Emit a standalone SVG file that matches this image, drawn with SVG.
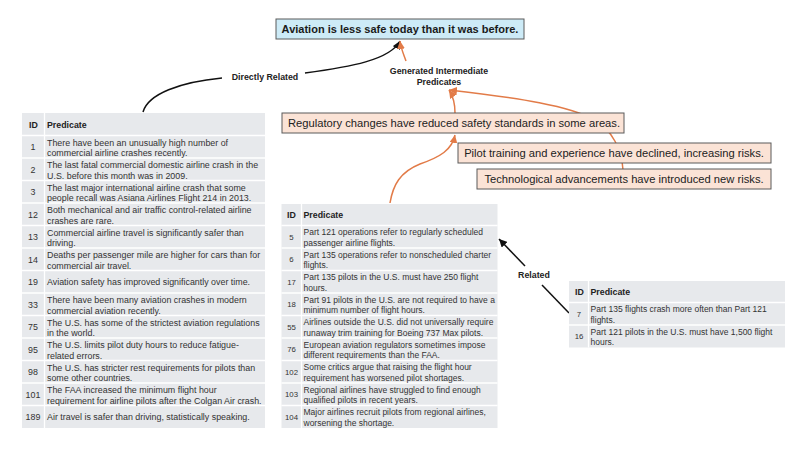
<svg xmlns="http://www.w3.org/2000/svg" width="800" height="450" viewBox="0 0 800 450">
<style>
.bg{fill:#ffffff}
.title{fill:#CDEBF7;stroke:#5a5a5a;stroke-width:1}
.gen{fill:#FBE3D6;stroke:#5a5a5a;stroke-width:1}
.tt{font-family:"Liberation Sans",Arial,sans-serif;font-weight:bold;font-size:11px;fill:#1a1a1a;text-anchor:middle}
.gt{font-family:"Liberation Sans",Arial,sans-serif;font-size:11.2px;fill:#222;text-anchor:middle}
.lbl{font-family:"Liberation Sans",Arial,sans-serif;font-weight:bold;font-size:8.8px;fill:#222;text-anchor:middle}
.tbl{fill:#E7E9EC}
.sep{stroke:#ffffff;stroke-width:1.3}
.hd{font-family:"Liberation Sans",Arial,sans-serif;font-weight:bold;font-size:8.8px;fill:#222}
.l{font-family:"Liberation Sans",Arial,sans-serif;font-size:8.9px;fill:#333}
.lid{font-family:"Liberation Sans",Arial,sans-serif;font-size:8.9px;fill:#333;text-anchor:middle}
.m{font-family:"Liberation Sans",Arial,sans-serif;font-size:8.5px;fill:#333}
.mid{font-family:"Liberation Sans",Arial,sans-serif;font-size:7.8px;fill:#333;text-anchor:middle}
.blk{fill:none;stroke:#111;stroke-width:1.5}
.org{fill:none;stroke:#E27B48;stroke-width:1.5}
</style>
<defs>
<marker id="ab" markerUnits="userSpaceOnUse" markerWidth="9" markerHeight="8" refX="8" refY="4" orient="auto"><path d="M0,0 L8,4 L0,8 z" fill="#111"/></marker>
<marker id="ao" markerUnits="userSpaceOnUse" markerWidth="9" markerHeight="8" refX="8" refY="4" orient="auto"><path d="M0,0 L8,4 L0,8 z" fill="#E27B48"/></marker>
</defs>
<rect class="bg" x="0" y="0" width="800" height="450"/>

<g id="connectors">
<path class="blk" d="M143,112 C148,94 180,82 222,78"/>
<path class="blk" d="M305,73 C350,67 390,60 400,41" marker-end="url(#ab)"/>
<path class="org" d="M406,61 C404,55 401,49 400,41" marker-end="url(#ao)"/>
<path class="org" d="M455,113 C455,104 453,96 449,90" marker-end="url(#ao)"/>
<path class="org" d="M623,170 C622,150 612,130 595,120 C570,106 520,98 449,90" marker-end="url(#ao)"/>
<path class="org" d="M390,203 C393,185 400,172 420,164 C440,157 452,150 455,135" marker-end="url(#ao)"/>
<path class="blk" d="M569,313 L542,285"/>
<path class="blk" d="M525,266 L499,239" marker-end="url(#ab)"/>
</g>

<g id="labels">
<text class="lbl" x="265" y="80">Directly Related</text>
<text class="lbl" x="439" y="74">Generated Intermediate</text>
<text class="lbl" x="439" y="85">Predicates</text>
<text class="lbl" x="534" y="278">Related</text>
</g>

<g id="claim">
<rect class="title" x="276" y="19" width="248" height="20"/>
<text class="tt" x="400" y="33">Aviation is less safe today than it was before.</text>
</g>

<g id="gen1">
<rect class="gen" x="282" y="113" width="342" height="20"/>
<text class="gt" x="454" y="127">Regulatory changes have reduced safety standards in some areas.</text>
</g>
<g id="gen2">
<rect class="gen" x="458" y="143" width="313" height="20"/>
<text class="gt" x="614" y="157">Pilot training and experience have declined, increasing risks.</text>
</g>
<g id="gen3">
<rect class="gen" x="477" y="169" width="294" height="20"/>
<text class="gt" x="624" y="183">Technological advancements have introduced new risks.</text>
</g>

<g id="table-direct">
<rect class="tbl" x="22" y="113" width="243" height="315"/>
<g class="sep">
<line x1="22" y1="135.5" x2="265" y2="135.5"/>
<line x1="22" y1="158" x2="265" y2="158"/>
<line x1="22" y1="180.5" x2="265" y2="180.5"/>
<line x1="22" y1="203" x2="265" y2="203"/>
<line x1="22" y1="225.5" x2="265" y2="225.5"/>
<line x1="22" y1="248" x2="265" y2="248"/>
<line x1="22" y1="270.5" x2="265" y2="270.5"/>
<line x1="22" y1="293" x2="265" y2="293"/>
<line x1="22" y1="315.5" x2="265" y2="315.5"/>
<line x1="22" y1="338" x2="265" y2="338"/>
<line x1="22" y1="360.5" x2="265" y2="360.5"/>
<line x1="22" y1="383" x2="265" y2="383"/>
<line x1="22" y1="405.5" x2="265" y2="405.5"/>
<line x1="44.5" y1="113" x2="44.5" y2="428"/>
</g>
<text class="hd" x="29" y="127.5">ID</text>
<text class="hd" x="47" y="127.5">Predicate</text>
<text class="lid" x="33" y="150">1</text>
<text class="l" x="47" y="145.5">There have been an unusually high number of</text>
<text class="l" x="47" y="156">commercial airline crashes recently.</text>
<text class="lid" x="33" y="172.5">2</text>
<text class="l" x="47" y="168">The last fatal commercial domestic airline crash in the</text>
<text class="l" x="47" y="178.5">U.S. before this month was in 2009.</text>
<text class="lid" x="33" y="195">3</text>
<text class="l" x="47" y="190.5">The last major international airline crash that some</text>
<text class="l" x="47" y="201">people recall was Asiana Airlines Flight 214 in 2013.</text>
<text class="lid" x="33" y="217.5">12</text>
<text class="l" x="47" y="213">Both mechanical and air traffic control-related airline</text>
<text class="l" x="47" y="223.5">crashes are rare.</text>
<text class="lid" x="33" y="240">13</text>
<text class="l" x="47" y="235.5">Commercial airline travel is significantly safer than</text>
<text class="l" x="47" y="246">driving.</text>
<text class="lid" x="33" y="262.5">14</text>
<text class="l" x="47" y="258">Deaths per passenger mile are higher for cars than for</text>
<text class="l" x="47" y="268.5">commercial air travel.</text>
<text class="lid" x="33" y="285">19</text>
<text class="l" x="47" y="285">Aviation safety has improved significantly over time.</text>
<text class="lid" x="33" y="307.5">33</text>
<text class="l" x="47" y="303">There have been many aviation crashes in modern</text>
<text class="l" x="47" y="313.5">commercial aviation recently.</text>
<text class="lid" x="33" y="330">75</text>
<text class="l" x="47" y="325.5">The U.S. has some of the strictest aviation regulations</text>
<text class="l" x="47" y="336">in the world.</text>
<text class="lid" x="33" y="352.5">95</text>
<text class="l" x="47" y="348">The U.S. limits pilot duty hours to reduce fatigue-</text>
<text class="l" x="47" y="358.5">related errors.</text>
<text class="lid" x="33" y="375">98</text>
<text class="l" x="47" y="370.5">The U.S. has stricter rest requirements for pilots than</text>
<text class="l" x="47" y="381">some other countries.</text>
<text class="lid" x="33" y="397.5">101</text>
<text class="l" x="47" y="393">The FAA increased the minimum flight hour</text>
<text class="l" x="47" y="403.5">requirement for airline pilots after the Colgan Air crash.</text>
<text class="lid" x="33" y="420">189</text>
<text class="l" x="47" y="420">Air travel is safer than driving, statistically speaking.</text>
</g>

<g id="table-generated">
<rect class="tbl" x="281.5" y="204" width="216" height="224"/>
<g class="sep">
<line x1="281.5" y1="225.5" x2="497.5" y2="225.5"/>
<line x1="281.5" y1="248" x2="497.5" y2="248"/>
<line x1="281.5" y1="270.5" x2="497.5" y2="270.5"/>
<line x1="281.5" y1="293" x2="497.5" y2="293"/>
<line x1="281.5" y1="315.5" x2="497.5" y2="315.5"/>
<line x1="281.5" y1="338" x2="497.5" y2="338"/>
<line x1="281.5" y1="360.5" x2="497.5" y2="360.5"/>
<line x1="281.5" y1="383" x2="497.5" y2="383"/>
<line x1="281.5" y1="405.5" x2="497.5" y2="405.5"/>
<line x1="301.5" y1="204" x2="301.5" y2="428"/>
</g>
<text class="hd" x="287" y="218">ID</text>
<text class="hd" x="303.5" y="218">Predicate</text>
<text class="mid" x="291.5" y="239.5">5</text>
<text class="m" x="303.5" y="235">Part 121 operations refer to regularly scheduled</text>
<text class="m" x="303.5" y="245.5">passenger airline flights.</text>
<text class="mid" x="291.5" y="262">6</text>
<text class="m" x="303.5" y="257.5">Part 135 operations refer to nonscheduled charter</text>
<text class="m" x="303.5" y="268">flights.</text>
<text class="mid" x="291.5" y="284.5">17</text>
<text class="m" x="303.5" y="280">Part 135 pilots in the U.S. must have 250 flight</text>
<text class="m" x="303.5" y="290.5">hours.</text>
<text class="mid" x="291.5" y="307">18</text>
<text class="m" x="303.5" y="302.5">Part 91 pilots in the U.S. are not required to have a</text>
<text class="m" x="303.5" y="313">minimum number of flight hours.</text>
<text class="mid" x="291.5" y="329.5">55</text>
<text class="m" x="303.5" y="325">Airlines outside the U.S. did not universally require</text>
<text class="m" x="303.5" y="335.5">runaway trim training for Boeing 737 Max pilots.</text>
<text class="mid" x="291.5" y="352">76</text>
<text class="m" x="303.5" y="347.5">European aviation regulators sometimes impose</text>
<text class="m" x="303.5" y="358">different requirements than the FAA.</text>
<text class="mid" x="291.5" y="374.5">102</text>
<text class="m" x="303.5" y="370">Some critics argue that raising the flight hour</text>
<text class="m" x="303.5" y="380.5">requirement has worsened pilot shortages.</text>
<text class="mid" x="291.5" y="397">103</text>
<text class="m" x="303.5" y="392.5">Regional airlines have struggled to find enough</text>
<text class="m" x="303.5" y="403">qualified pilots in recent years.</text>
<text class="mid" x="291.5" y="419.5">104</text>
<text class="m" x="303.5" y="415">Major airlines recruit pilots from regional airlines,</text>
<text class="m" x="303.5" y="425.5">worsening the shortage.</text>
</g>

<g id="table-related">
<rect class="tbl" x="569" y="281" width="216" height="66.5"/>
<g class="sep">
<line x1="569" y1="302.5" x2="785" y2="302.5"/>
<line x1="569" y1="325" x2="785" y2="325"/>
<line x1="588.5" y1="281" x2="588.5" y2="347.5"/>
</g>
<text class="hd" x="575" y="295">ID</text>
<text class="hd" x="590.5" y="295">Predicate</text>
<text class="mid" x="579" y="316.5">7</text>
<text class="m" x="590.5" y="312">Part 135 flights crash more often than Part 121</text>
<text class="m" x="590.5" y="322.5">flights.</text>
<text class="mid" x="579" y="339">16</text>
<text class="m" x="590.5" y="334.5">Part 121 pilots in the U.S. must have 1,500 flight</text>
<text class="m" x="590.5" y="345">hours.</text>
</g>
</svg>
